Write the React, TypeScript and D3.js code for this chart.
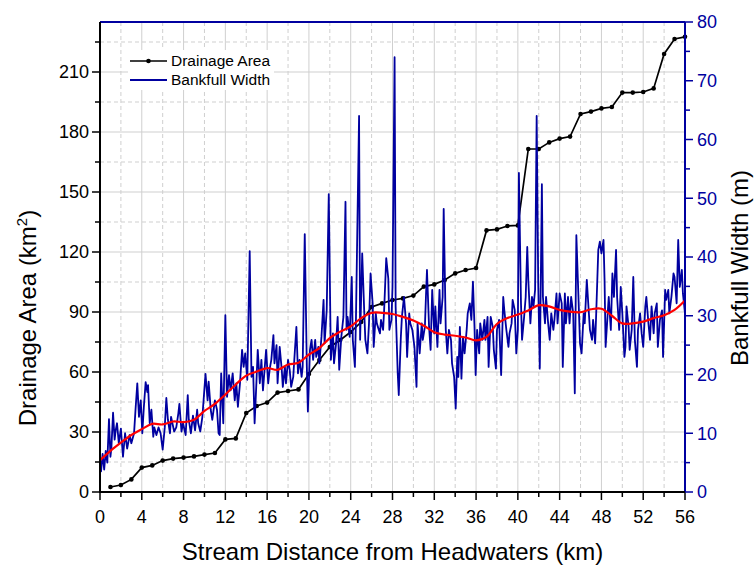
import React from 'react';
import * as d3 from 'd3';

// drainage area, one reading per km
const AREA_KM = [1, 2, 3, 4, 5, 6, 7, 8, 9, 10, 11, 12, 13, 14, 15, 16, 17, 18, 19, 20,
  21, 22, 23, 24, 25, 26, 27, 28, 29, 30, 31, 32, 33, 34, 35, 36, 37, 38, 39, 40,
  41, 42, 43, 44, 45, 46, 47, 48, 49, 50, 51, 52, 53, 54, 55, 56];
const AREA_VAL = [2.5, 3.5, 6.3, 12.2, 13.3, 15.7, 16.7, 17.2, 17.8, 18.7, 19.5, 26.3, 26.8, 39.5, 43, 44.7, 49.7, 50.5, 51.3, 59,
  66, 72.5, 76, 80, 85, 92.5, 94.3, 96, 96.8, 98.2, 102.7, 103.8, 106, 109.3, 111, 112, 130.8, 131.3, 133, 133.3,
  171.5, 171.5, 174.8, 176.7, 177.7, 189, 190.2, 191.8, 192.5, 199.7, 199.7, 200, 201.8, 219, 226.5, 227.6];

// bankfull width survey
const WIDTH_KM = [
  0, 0.1, 0.25, 0.4, 0.55, 0.7, 0.86, 1.0, 1.09, 1.25, 1.4, 1.5, 1.63, 1.8, 2.0, 2.2, 2.4, 2.6, 2.84, 3.0,
  3.26, 3.4, 3.57, 3.73, 3.9, 4.05, 4.2, 4.37, 4.53, 4.6, 4.76, 4.92, 5.1, 5.2, 5.4, 5.6, 5.8, 6.0, 6.2, 6.35,
  6.5, 6.7, 6.8, 7.1, 7.3, 7.5, 7.6, 7.8, 7.95, 8.2, 8.4, 8.5, 8.7, 8.9, 9.1, 9.3, 9.4, 9.6, 9.8, 10.1,
  10.3, 10.4, 10.6, 10.75, 11.0, 11.2, 11.35, 11.46, 11.6, 11.8,
  12.0, 12.16, 12.35, 12.5, 12.7, 12.9, 13.05, 13.2, 13.4, 13.6, 13.75, 13.9, 14.1, 14.33, 14.5, 14.65, 14.8, 14.97, 15.1, 15.3,
  15.45, 15.6, 15.8, 15.9, 16.1, 16.25, 16.4, 16.6, 16.7, 16.9, 17.0, 17.2, 17.4, 17.5, 17.7, 17.8, 18.0, 18.16, 18.3, 18.5,
  18.6, 18.8, 18.95, 19.1, 19.3, 19.4, 19.6, 19.8, 19.9, 20.1, 20.25, 20.4, 20.6, 20.7, 20.9, 21.0, 21.2, 21.4, 21.5, 21.7,
  21.9, 22.1, 22.3, 22.4, 22.6, 22.75, 22.9,
  23.1, 23.3, 23.5, 23.6, 23.7, 23.9, 24.1, 24.2, 24.4, 24.5, 24.8, 24.9, 25.1, 25.3, 25.4, 25.6, 25.75, 25.9, 26.1, 26.2,
  26.4, 26.5, 26.8, 26.9, 27.1, 27.2, 27.4, 27.6, 27.7, 27.9, 28.0, 28.2, 28.3, 28.5, 28.6, 28.8, 28.9, 29.1, 29.3, 29.4,
  29.6, 29.7, 29.9, 30.1, 30.3, 30.4, 30.6, 30.8, 30.9, 31.1, 31.2, 31.3, 31.5, 31.65, 31.8, 32.0, 32.1, 32.3, 32.5, 32.6,
  32.8, 32.9, 33.1, 33.25, 33.4, 33.6, 33.7, 33.9, 34.05, 34.2, 34.3, 34.45, 34.6,
  34.75, 34.9, 35.1, 35.2, 35.4, 35.55, 35.7, 35.85, 35.96, 36.1, 36.3, 36.4, 36.6, 36.8, 36.9, 37.1, 37.2, 37.4, 37.6, 37.7,
  37.9, 38.0, 38.2, 38.4, 38.6, 38.7, 38.9, 39.1, 39.2, 39.4, 39.5, 39.7, 39.85, 40.0, 40.1, 40.3, 40.4, 40.6, 40.75, 40.9,
  41.0, 41.2, 41.35, 41.5, 41.65, 41.8, 41.95, 42.1, 42.3, 42.4, 42.6, 42.7, 42.9, 43.05, 43.2, 43.4, 43.5, 43.7, 43.8, 44.0,
  44.2, 44.3, 44.5, 44.6, 44.8, 44.95, 45.1, 45.3, 45.45, 45.6, 45.8, 45.95,
  46.1, 46.3, 46.4, 46.6, 46.7, 46.9, 47.1, 47.2, 47.4, 47.5, 47.7, 47.85, 48.0, 48.2, 48.3, 48.4, 48.6, 48.7, 48.9, 49.05,
  49.2, 49.4, 49.5, 49.7, 49.85, 50.0, 50.2, 50.3, 50.4, 50.6, 50.7, 50.9, 51.05, 51.2, 51.4, 51.5, 51.7, 51.85, 52.0, 52.2,
  52.3, 52.5, 52.65, 52.8, 53.0, 53.1, 53.3, 53.4, 53.6, 53.8, 53.9, 54.1, 54.2, 54.4, 54.5, 54.7, 54.9, 55.0, 55.2, 55.35,
  55.5, 55.7, 55.8, 56.0,
];
const WIDTH_VAL = [
  5, 3.5, 6.5, 3.8, 7, 5, 12.4, 6, 7.5, 13.5, 8.9, 10.5, 11.7, 8.3, 10.8, 6, 10, 7.4, 9.7, 8.3,
  10, 14, 18.5, 12.8, 15.6, 10, 14.5, 18.7, 17, 18.2, 11.7, 14, 9.4, 11, 9.7, 11, 10, 7.2, 11, 16,
  12.3, 10, 12.8, 10.3, 11, 13.4, 15, 10.3, 11.7, 9.7, 16.5, 12.3, 10, 13, 10.5, 14, 11.7, 10.3, 12.8, 20.1,
  15.6, 18.8, 14, 12.3, 15.6, 14, 10, 9.7, 20.2, 11.7,
  30.1, 16.2, 19.9, 17.3, 20.2, 15.6, 18.5, 14.5, 18.5, 24.2, 21.3, 23.6, 19.1, 41, 19.6, 21.3, 11.7, 18.5, 24.2, 18.5,
  22.5, 17.3, 21.9, 24.2, 18.5, 21, 22.5, 26.7, 21.9, 25, 18.5, 24.7, 20.8, 17.9, 21.3, 18.5, 22.5, 20.8, 17.9, 19.6,
  22.5, 28.1, 20.2, 22.5, 19.6, 21.3, 43.9, 21.3, 13.7, 24.2, 25.9, 22.5, 25.9, 23, 24.7, 21.9, 26.4, 32.7, 25.3, 30.9,
  50.7, 22.5, 27, 21.9, 25.3, 29.8, 20.8,
  26.4, 29.8, 49.4, 27.6, 29.8, 26.4, 36.6, 25.9, 21.3, 29.3, 64, 25.9, 40.6, 30.4, 25.9, 23.6, 28.7, 37.2, 32.1, 24.7,
  30.4, 28.7, 27, 29.3, 27.6, 31, 39.8, 36.3, 27.6, 29.3, 34.9, 74, 31.6, 20.2, 16.5, 26.4, 29.8, 33.2, 28.7, 23,
  30.4, 28.7, 27.6, 24.7, 17.9, 28.7, 23.6, 28.7, 25.9, 28.1, 33.2, 37.8, 28.1, 24.2, 34.4, 27, 31.6, 24.7, 34.4, 28.7,
  33.2, 48.2, 27.6, 23.6, 27.6, 25.9, 21.9, 19.6, 14.2, 23, 19.6, 28.1, 19.3,
  26.4, 23.6, 27.6, 30.4, 32.1, 29.3, 35.8, 28.1, 19.9, 27.6, 23.6, 28.7, 25.9, 29.3, 25.9, 29.8, 21.3, 29.8, 28.1, 24.2,
  21, 27.6, 29.3, 19.9, 33.2, 31, 27.6, 24.7, 27, 28.7, 32.7, 31, 23.6, 27.6, 54.3, 32.1, 25.9, 29.8, 33.2, 41.7,
  36.1, 28.7, 33.2, 31.6, 34.4, 64, 35.5, 21, 52.4, 33.2, 28.7, 33.2, 28.7, 25.9, 30.4, 27.6, 29.3, 33.8, 28.7, 33.8,
  32.1, 21.3, 33.8, 28.7, 33.2, 28.7, 33.2, 30.4, 16.8, 43.7, 33.2, 25.3,
  23.6, 30.4, 28.7, 36.1, 33.2, 27.6, 25.9, 29.3, 25.3, 30.4, 41.2, 42.6, 40.6, 42.9, 36.1, 24.7, 30.4, 33.2, 27.6, 37.2,
  33.2, 41.2, 33.2, 27.6, 34.9, 30.4, 23, 24.7, 31.6, 28.1, 24.2, 27.6, 36.6, 25.9, 21.3, 27.6, 30.4, 27, 24.7, 31.6,
  33.2, 28.7, 25.9, 31.6, 27, 30.4, 32.1, 24.7, 29.3, 30.9, 23, 34.4, 32.7, 34.4, 30.4, 33.2, 37.2, 36.6, 32.1, 42.9,
  34.9, 37.8, 33.8, 30.4,
];

// smoothed width trend
const TREND_KM = [0, 1, 2, 3, 4, 5, 6, 7, 8, 9, 10, 11, 12, 13, 14, 15, 16, 17, 18, 19, 20,
  21, 22, 23, 24, 25, 26, 27, 28, 29, 30, 31, 32, 33, 34, 35, 36, 37, 38, 39, 40,
  41, 42, 43, 44, 45, 46, 47, 48, 49, 50, 51, 52, 53, 54, 55, 56];
const TREND_VAL = [5.4, 7, 8.4, 9.7, 10.7, 11.6, 11.5, 12, 11.9, 12.3, 13.8, 15, 16.6, 18.3, 19.8, 20.5, 21.1, 20.8, 21.7, 22, 23.4,
  24.5, 26.2, 27.3, 28.2, 29.6, 30.5, 30.5, 30.3, 29.8, 29.2, 28.3, 27.2, 26.8, 26.6, 26.3, 25.8, 26.4, 28.6, 29.6, 30.2,
  30.9, 31.8, 31.6, 31, 30.7, 30.6, 31.1, 31.2, 30, 28.7, 28.7, 29, 29.6, 30.1, 31, 32.6];

const X_TICKS = [0, 4, 8, 12, 16, 20, 24, 28, 32, 36, 40, 44, 48, 52, 56];
const LEFT_TICKS = [0, 30, 60, 90, 120, 150, 180, 210];
const RIGHT_TICKS = [0, 10, 20, 30, 40, 50, 60, 70, 80];

const W = 755;
const H = 567;
const PLOT = { left: 100, right: 685, top: 22, bottom: 492 };
const BLUE = '#0000a0';
const FONT = "'Liberation Sans', Arial, sans-serif";

export default function App() {
  const x = d3.scaleLinear().domain([0, 56]).range([PLOT.left, PLOT.right]);
  const yL = d3.scaleLinear().domain([0, 235]).range([PLOT.bottom, PLOT.top]);
  const yR = d3.scaleLinear().domain([0, 80]).range([PLOT.bottom, PLOT.top]);

  const areaPts = AREA_KM.map((k, i) => [k, AREA_VAL[i]] as [number, number]);
  const widthPts = WIDTH_KM.map((k, i) => [k, WIDTH_VAL[i]] as [number, number]);
  const trendPts = TREND_KM.map((k, i) => [k, TREND_VAL[i]] as [number, number]);

  const areaLine = d3.line<[number, number]>().x(d => x(d[0])).y(d => yL(d[1]));
  const widthLine = d3.line<[number, number]>().x(d => x(d[0])).y(d => yR(d[1]));
  const trendLine = d3.line<[number, number]>().x(d => x(d[0])).y(d => yR(d[1])).curve(d3.curveCatmullRom);

  const xGrid = d3.range(2, 56, 2);
  const yGrid = d3.range(15, 235, 15);
  const xMinor = d3.range(2, 56, 4);
  const leftMinor = d3.range(15, 235, 30);
  const rightMinor = d3.range(5, 80, 10);

  return (
    <svg width={W} height={H} style={{ position: 'absolute', left: 0, top: 0, background: '#fff' }}
      fontFamily={FONT}>
      {/* grid */}
      {xGrid.map(v => (
        <line key={'gx' + v} x1={x(v)} x2={x(v)} y1={PLOT.top} y2={PLOT.bottom}
          stroke="#cfcfcf" strokeWidth={1}
          strokeDasharray={v % 4 === 0 ? undefined : '4 3'} />
      ))}
      {yGrid.map(v => (
        <line key={'gy' + v} x1={PLOT.left} x2={PLOT.right} y1={yL(v)} y2={yL(v)}
          stroke="#cfcfcf" strokeWidth={1}
          strokeDasharray={v % 30 === 0 ? undefined : '4 3'} />
      ))}

      {/* series */}
      <path d={areaLine(areaPts) ?? ''} fill="none" stroke="#000" strokeWidth={1.7} />
      {areaPts.map(d => (
        <circle key={'a' + d[0]} cx={x(d[0])} cy={yL(d[1])} r={2.3} fill="#000" />
      ))}
      <path d={widthLine(widthPts) ?? ''} fill="none" stroke={BLUE} strokeWidth={1.8} strokeLinejoin="round" />
      <path d={trendLine(trendPts) ?? ''} fill="none" stroke="#ff0000" strokeWidth={2.2} />

      {/* frame */}
      <line x1={PLOT.left} x2={PLOT.right} y1={PLOT.top} y2={PLOT.top} stroke={BLUE} strokeWidth={2} />
      <line x1={PLOT.right} x2={PLOT.right} y1={PLOT.top} y2={PLOT.bottom} stroke={BLUE} strokeWidth={2} />
      <line x1={PLOT.left} x2={PLOT.left} y1={PLOT.top} y2={PLOT.bottom} stroke="#000" strokeWidth={2} />
      <line x1={PLOT.left - 1} x2={PLOT.right} y1={PLOT.bottom} y2={PLOT.bottom} stroke="#000" strokeWidth={2} />

      {/* bottom axis */}
      {X_TICKS.map(v => (
        <g key={'xt' + v}>
          <line x1={x(v)} x2={x(v)} y1={PLOT.bottom} y2={PLOT.bottom + 8} stroke="#000" strokeWidth={1.5} />
          <text x={x(v)} y={PLOT.bottom + 31} textAnchor="middle" fontSize={18}>{v}</text>
        </g>
      ))}
      {xMinor.map(v => (
        <line key={'xm' + v} x1={x(v)} x2={x(v)} y1={PLOT.bottom} y2={PLOT.bottom + 5} stroke="#000" strokeWidth={1.5} />
      ))}

      {/* left axis */}
      {LEFT_TICKS.map(v => (
        <g key={'lt' + v}>
          <line x1={PLOT.left - 8} x2={PLOT.left} y1={yL(v)} y2={yL(v)} stroke="#000" strokeWidth={1.5} />
          <text x={PLOT.left - 11} y={yL(v)} dy="0.35em" textAnchor="end" fontSize={18}>{v}</text>
        </g>
      ))}
      {leftMinor.map(v => (
        <line key={'lm' + v} x1={PLOT.left - 5} x2={PLOT.left} y1={yL(v)} y2={yL(v)} stroke="#000" strokeWidth={1.5} />
      ))}

      {/* right axis */}
      {RIGHT_TICKS.map(v => (
        <g key={'rt' + v}>
          <line x1={PLOT.right} x2={PLOT.right + 8} y1={yR(v)} y2={yR(v)} stroke={BLUE} strokeWidth={1.5} />
          <text x={PLOT.right + 12} y={yR(v)} dy="0.35em" textAnchor="start" fontSize={18} fill={BLUE}>{v}</text>
        </g>
      ))}
      {rightMinor.map(v => (
        <line key={'rm' + v} x1={PLOT.right} x2={PLOT.right + 5} y1={yR(v)} y2={yR(v)} stroke={BLUE} strokeWidth={1.5} />
      ))}

      {/* axis titles */}
      <text x={(PLOT.left + PLOT.right) / 2} y={560} textAnchor="middle" fontSize={24}>
        Stream Distance from Headwaters (km)
      </text>
      <text transform="translate(36,318) rotate(-90)" textAnchor="middle" fontSize={24}>
        Drainage Area (km<tspan dy={-9} fontSize={15}>2</tspan><tspan dy={9}>)</tspan>
      </text>
      <text transform="translate(748,268) rotate(-90)" textAnchor="middle" fontSize={24}>
        Bankfull Width (m)
      </text>

      {/* legend */}
      <rect x={128} y={50} width={146} height={40} fill="#fff" />
      <line x1={130} x2={167} y1={61} y2={61} stroke="#000" strokeWidth={1.7} />
      <circle cx={148.5} cy={61} r={2.3} fill="#000" />
      <text x={171} y={61} dy="0.35em" fontSize={15.5}>Drainage Area</text>
      <line x1={130} x2={167} y1={80} y2={80} stroke={BLUE} strokeWidth={1.8} />
      <text x={171} y={80} dy="0.35em" fontSize={15.5}>Bankfull Width</text>
    </svg>
  );
}
